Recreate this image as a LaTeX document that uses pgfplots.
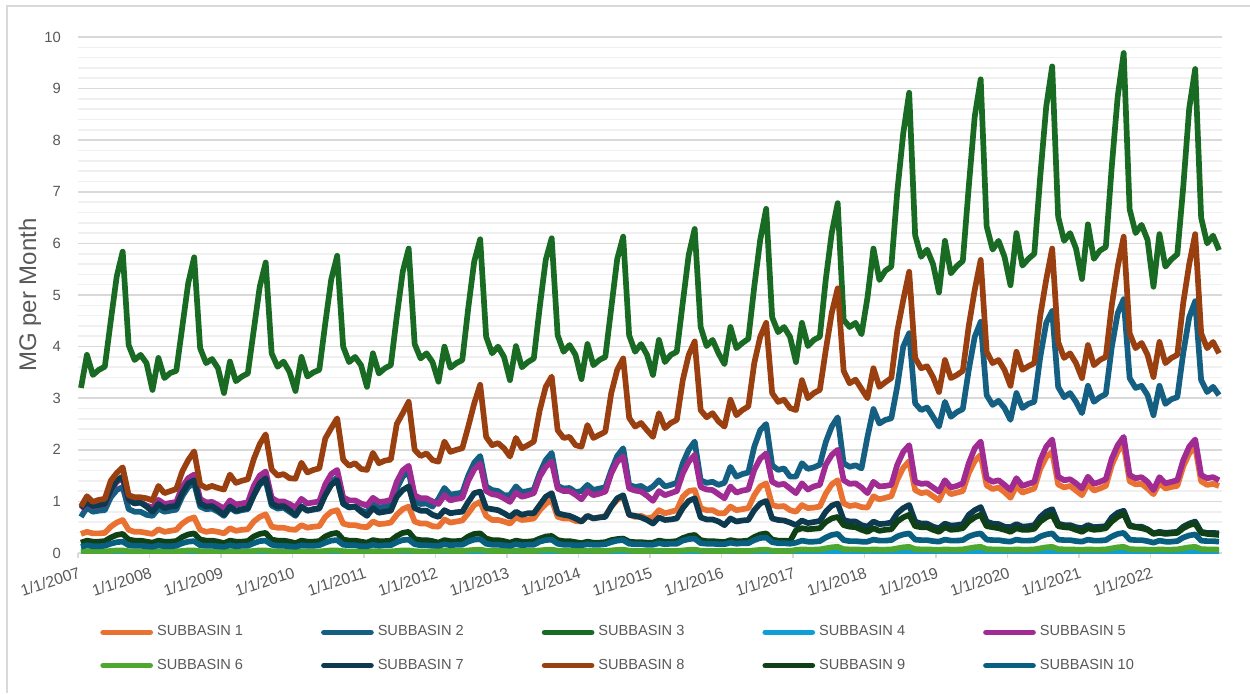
\documentclass[border=0pt]{standalone}
\usepackage{pgfplots}
\pgfplotsset{compat=1.18}
\usepackage{fontspec}
\setmainfont{Liberation Sans}
\definecolor{cS1}{HTML}{E97132}
\definecolor{cS2}{HTML}{156082}
\definecolor{cS3}{HTML}{196B24}
\definecolor{cS4}{HTML}{0F9ED5}
\definecolor{cS5}{HTML}{A02B93}
\definecolor{cS6}{HTML}{4EA72E}
\definecolor{cS7}{HTML}{0D3A4E}
\definecolor{cS8}{HTML}{9A4010}
\definecolor{cS9}{HTML}{0F4016}
\definecolor{cS10}{HTML}{095F80}
\definecolor{gridmaj}{HTML}{D9D9D9}
\definecolor{gridmin}{HTML}{F0F0F0}
\definecolor{txt}{HTML}{595959}
\begin{document}
\begin{tikzpicture}
\useasboundingbox (0pt,0pt) rectangle (625pt,346.5pt);
\fill[white] (0pt,0pt) rectangle (625pt,346.5pt);
\draw[gridmaj, line width=1pt] (3.25pt,0pt) -- (3.25pt,343.6pt) -- (625pt,343.6pt);
\begin{axis}[
  at={(39pt,70pt)}, anchor=south west,
  width=572pt, height=258pt, scale only axis,
  xmin=0, xmax=192, ymin=0, ymax=10,
  axis lines*=left,
  y axis line style={draw=none},
  x axis line style={gridmaj, line width=0.8pt},
  ytick={0,1,...,10}, minor y tick num=4,
  ymajorgrids, yminorgrids,
  major grid style={gridmaj, line width=0.8pt},
  minor grid style={gridmin, line width=0.8pt},
  y tick style={draw=none}, minor tick length=0pt,
  xtick={0,12,...,180},
  xticklabels={1/1/2007,1/1/2008,1/1/2009,1/1/2010,1/1/2011,1/1/2012,1/1/2013,1/1/2014,1/1/2015,1/1/2016,1/1/2017,1/1/2018,1/1/2019,1/1/2020,1/1/2021,1/1/2022},
  x tick style={gridmaj, line width=0.8pt},
  tick align=outside, major tick length=2.5pt,
  /pgf/number format/assume math mode=true,
  xticklabel style={yshift=-4pt, rotate=18, anchor=north east, inner sep=0pt, font=\fontsize{7.9}{9}\selectfont, text=txt},
  yticklabel style={font=\fontsize{7.4}{9}\selectfont, text=txt, xshift=-2.5pt},
  ylabel={MG per Month},
  ylabel style={at={(axis description cs:-0.042,0.5)}, anchor=center, font=\fontsize{12}{14}\selectfont, text=txt},
  every axis plot/.append style={line width=2.85pt, line join=round, no marks},
  legend columns=5,
  legend image code/.code={\draw[#1, line cap=round] (0pt,0pt) -- (23.5pt,0pt);},
  legend style={at={(axis description cs:0.0192,-0.186)}, anchor=west, draw=none, fill=none, inner sep=0pt,
    font=\fontsize{7.3}{9}\selectfont, text=txt, row sep=6pt,
    /tikz/every even column/.append style={column sep=4pt}},
]
% SUBBASIN 1
\addplot[cS1] table[header=false, x expr=\coordindex+0.5, y index=0, row sep=\\] {
0.37\\0.41\\0.38\\0.38\\0.39\\0.51\\0.59\\0.64\\0.45\\0.41\\0.41\\0.39\\
0.37\\0.46\\0.41\\0.43\\0.45\\0.57\\0.65\\0.69\\0.45\\0.41\\0.43\\0.41\\
0.38\\0.48\\0.43\\0.45\\0.46\\0.61\\0.70\\0.75\\0.51\\0.49\\0.49\\0.46\\
0.45\\0.54\\0.49\\0.51\\0.52\\0.70\\0.80\\0.83\\0.57\\0.54\\0.54\\0.51\\
0.50\\0.61\\0.56\\0.57\\0.59\\0.74\\0.85\\0.90\\0.61\\0.57\\0.57\\0.52\\
0.51\\0.65\\0.59\\0.61\\0.63\\0.77\\0.93\\0.99\\0.72\\0.64\\0.64\\0.61\\
0.57\\0.69\\0.64\\0.65\\0.67\\0.83\\0.95\\1.03\\0.70\\0.67\\0.67\\0.62\\
0.61\\0.72\\0.67\\0.69\\0.72\\0.90\\1.03\\1.09\\0.74\\0.70\\0.72\\0.67\\
0.70\\0.83\\0.77\\0.80\\0.83\\1.09\\1.20\\1.22\\0.87\\0.83\\0.83\\0.77\\
0.77\\0.90\\0.83\\0.85\\0.87\\1.12\\1.29\\1.35\\0.93\\0.90\\0.91\\0.83\\
0.80\\0.93\\0.87\\0.88\\0.90\\1.15\\1.33\\1.41\\0.96\\0.91\\0.93\\0.89\\
0.88\\1.10\\1.04\\1.07\\1.10\\1.42\\1.65\\1.78\\1.22\\1.16\\1.18\\1.10\\
1.02\\1.26\\1.14\\1.17\\1.20\\1.55\\1.78\\1.90\\1.31\\1.24\\1.27\\1.18\\
1.07\\1.30\\1.17\\1.21\\1.25\\1.63\\1.86\\1.96\\1.33\\1.27\\1.30\\1.21\\
1.12\\1.34\\1.21\\1.25\\1.30\\1.70\\1.97\\2.10\\1.39\\1.33\\1.34\\1.25\\
1.14\\1.36\\1.25\\1.28\\1.30\\1.68\\1.93\\2.06\\1.39\\1.32\\1.34\\1.30\\
};
% SUBBASIN 2
\addplot[cS2] table[header=false, x expr=\coordindex+0.5, y index=0, row sep=\\] {
0.70\\0.88\\0.80\\0.82\\0.83\\1.08\\1.22\\1.28\\0.85\\0.80\\0.80\\0.74\\
0.72\\0.86\\0.80\\0.82\\0.84\\1.10\\1.28\\1.35\\0.90\\0.85\\0.86\\0.80\\
0.72\\0.88\\0.80\\0.83\\0.85\\1.12\\1.33\\1.40\\0.92\\0.86\\0.88\\0.80\\
0.72\\0.90\\0.82\\0.84\\0.86\\1.15\\1.38\\1.46\\0.95\\0.88\\0.90\\0.83\\
0.78\\0.97\\0.88\\0.90\\0.92\\1.25\\1.48\\1.58\\1.00\\0.95\\0.96\\0.90\\
1.05\\1.26\\1.13\\1.15\\1.17\\1.50\\1.75\\1.88\\1.29\\1.22\\1.20\\1.12\\
1.12\\1.29\\1.18\\1.20\\1.23\\1.55\\1.80\\1.94\\1.30\\1.25\\1.26\\1.18\\
1.20\\1.32\\1.22\\1.25\\1.27\\1.60\\1.88\\2.03\\1.32\\1.28\\1.30\\1.22\\
1.29\\1.41\\1.29\\1.32\\1.36\\1.74\\2.00\\2.16\\1.41\\1.36\\1.38\\1.32\\
1.36\\1.67\\1.48\\1.53\\1.56\\2.06\\2.38\\2.50\\1.70\\1.61\\1.64\\1.48\\
1.48\\1.74\\1.63\\1.66\\1.71\\2.15\\2.45\\2.63\\1.74\\1.67\\1.70\\1.64\\
2.25\\2.79\\2.51\\2.58\\2.61\\3.23\\4.00\\4.26\\2.90\\2.77\\2.82\\2.64\\
2.45\\2.93\\2.64\\2.73\\2.79\\3.55\\4.19\\4.48\\3.06\\2.87\\2.95\\2.81\\
2.58\\3.10\\2.81\\2.89\\2.93\\3.80\\4.46\\4.69\\3.22\\3.02\\3.10\\2.93\\
2.71\\3.24\\2.93\\3.02\\3.08\\3.99\\4.65\\4.92\\3.39\\3.20\\3.24\\3.06\\
2.67\\3.24\\2.89\\2.98\\3.02\\3.88\\4.57\\4.88\\3.35\\3.12\\3.22\\3.06\\
};
% SUBBASIN 3
\addplot[cS3] table[header=false, x expr=\coordindex+0.5, y index=0, row sep=\\] {
3.20\\3.84\\3.45\\3.55\\3.61\\4.50\\5.36\\5.84\\4.03\\3.74\\3.84\\3.68\\
3.16\\3.78\\3.39\\3.49\\3.53\\4.38\\5.23\\5.73\\3.97\\3.68\\3.76\\3.58\\
3.10\\3.71\\3.33\\3.42\\3.48\\4.32\\5.16\\5.63\\3.87\\3.61\\3.71\\3.51\\
3.14\\3.80\\3.42\\3.50\\3.55\\4.45\\5.30\\5.76\\4.00\\3.70\\3.80\\3.64\\
3.22\\3.87\\3.48\\3.58\\3.64\\4.58\\5.45\\5.90\\4.05\\3.77\\3.87\\3.70\\
3.32\\4.00\\3.59\\3.68\\3.74\\4.75\\5.65\\6.08\\4.19\\3.87\\4.00\\3.80\\
3.35\\4.01\\3.60\\3.70\\3.77\\4.77\\5.68\\6.10\\4.22\\3.90\\4.03\\3.84\\
3.37\\4.05\\3.64\\3.74\\3.80\\4.75\\5.70\\6.13\\4.22\\3.90\\4.05\\3.84\\
3.45\\4.13\\3.70\\3.84\\3.90\\4.85\\5.78\\6.28\\4.38\\4.01\\4.13\\3.87\\
3.66\\4.38\\3.97\\4.07\\4.15\\5.16\\6.07\\6.67\\4.57\\4.28\\4.38\\4.19\\
3.70\\4.46\\4.01\\4.13\\4.19\\5.30\\6.20\\6.78\\4.52\\4.38\\4.46\\4.24\\
4.95\\5.90\\5.29\\5.47\\5.55\\7.00\\8.13\\8.92\\6.16\\5.74\\5.88\\5.60\\
5.05\\6.05\\5.42\\5.56\\5.66\\7.10\\8.46\\9.18\\6.33\\5.88\\6.05\\5.74\\
5.19\\6.20\\5.57\\5.70\\5.80\\7.30\\8.65\\9.43\\6.52\\6.05\\6.20\\5.90\\
5.31\\6.37\\5.70\\5.86\\5.93\\7.49\\8.85\\9.69\\6.66\\6.20\\6.36\\6.07\\
5.16\\6.18\\5.55\\5.69\\5.79\\7.10\\8.62\\9.38\\6.50\\6.00\\6.15\\5.87\\
};
% SUBBASIN 4
\addplot[cS4] table[header=false, x expr=\coordindex+0.5, y index=0, row sep=\\] {
0.010\\0.012\\0.010\\0.010\\0.010\\0.015\\0.020\\0.020\\0.012\\0.010\\0.010\\0.010\\
0.010\\0.012\\0.010\\0.010\\0.010\\0.015\\0.020\\0.020\\0.012\\0.010\\0.010\\0.010\\
0.010\\0.012\\0.010\\0.010\\0.010\\0.015\\0.020\\0.020\\0.012\\0.010\\0.010\\0.010\\
0.010\\0.012\\0.010\\0.010\\0.010\\0.015\\0.020\\0.020\\0.012\\0.010\\0.010\\0.010\\
0.010\\0.012\\0.010\\0.010\\0.010\\0.015\\0.020\\0.020\\0.012\\0.010\\0.010\\0.010\\
0.010\\0.012\\0.010\\0.010\\0.010\\0.015\\0.020\\0.020\\0.012\\0.010\\0.010\\0.010\\
0.010\\0.012\\0.010\\0.010\\0.010\\0.015\\0.020\\0.020\\0.012\\0.010\\0.010\\0.010\\
0.010\\0.012\\0.010\\0.010\\0.010\\0.015\\0.020\\0.020\\0.012\\0.010\\0.010\\0.010\\
0.010\\0.012\\0.010\\0.010\\0.010\\0.015\\0.020\\0.020\\0.012\\0.010\\0.010\\0.010\\
0.010\\0.012\\0.010\\0.010\\0.010\\0.015\\0.020\\0.020\\0.012\\0.010\\0.010\\0.010\\
0.015\\0.020\\0.015\\0.015\\0.020\\0.025\\0.030\\0.035\\0.020\\0.015\\0.015\\0.015\\
0.015\\0.020\\0.015\\0.015\\0.020\\0.025\\0.030\\0.035\\0.020\\0.015\\0.015\\0.015\\
0.015\\0.020\\0.015\\0.015\\0.020\\0.025\\0.030\\0.035\\0.020\\0.015\\0.015\\0.015\\
0.015\\0.020\\0.015\\0.015\\0.020\\0.025\\0.030\\0.035\\0.020\\0.015\\0.015\\0.015\\
0.015\\0.020\\0.015\\0.015\\0.020\\0.025\\0.030\\0.035\\0.020\\0.015\\0.015\\0.015\\
0.015\\0.020\\0.015\\0.015\\0.020\\0.025\\0.030\\0.035\\0.020\\0.015\\0.015\\0.015\\
};
% SUBBASIN 5
\addplot[cS5] table[header=false, x expr=\coordindex+0.5, y index=0, row sep=\\] {
0.85\\0.97\\0.90\\0.92\\0.94\\1.20\\1.38\\1.45\\1.02\\0.97\\0.98\\0.92\\
0.88\\1.03\\0.95\\0.97\\0.99\\1.28\\1.45\\1.52\\1.05\\0.98\\0.99\\0.93\\
0.86\\1.02\\0.94\\0.96\\0.98\\1.30\\1.50\\1.58\\1.07\\1.00\\1.00\\0.95\\
0.88\\1.05\\0.96\\0.98\\1.00\\1.33\\1.53\\1.61\\1.08\\1.02\\1.02\\0.96\\
0.92\\1.07\\0.99\\1.00\\1.03\\1.38\\1.60\\1.69\\1.12\\1.06\\1.06\\1.00\\
0.95\\1.12\\1.02\\1.05\\1.07\\1.40\\1.62\\1.73\\1.20\\1.14\\1.12\\1.06\\
0.99\\1.17\\1.09\\1.12\\1.16\\1.48\\1.67\\1.77\\1.25\\1.20\\1.20\\1.13\\
1.04\\1.20\\1.12\\1.15\\1.19\\1.54\\1.77\\1.87\\1.25\\1.21\\1.19\\1.11\\
1.01\\1.20\\1.12\\1.16\\1.20\\1.54\\1.77\\1.90\\1.28\\1.23\\1.22\\1.14\\
1.06\\1.29\\1.17\\1.21\\1.23\\1.61\\1.83\\1.93\\1.38\\1.32\\1.34\\1.25\\
1.16\\1.35\\1.23\\1.29\\1.32\\1.71\\1.90\\2.00\\1.41\\1.34\\1.35\\1.27\\
1.16\\1.38\\1.29\\1.30\\1.32\\1.71\\1.96\\2.09\\1.38\\1.34\\1.35\\1.27\\
1.19\\1.41\\1.27\\1.30\\1.35\\1.74\\2.03\\2.16\\1.45\\1.38\\1.41\\1.32\\
1.22\\1.45\\1.30\\1.34\\1.38\\1.80\\2.06\\2.20\\1.48\\1.41\\1.43\\1.35\\
1.25\\1.48\\1.34\\1.38\\1.43\\1.83\\2.09\\2.25\\1.51\\1.45\\1.47\\1.38\\
1.22\\1.47\\1.35\\1.38\\1.41\\1.80\\2.06\\2.20\\1.51\\1.45\\1.47\\1.41\\
};
% SUBBASIN 6
\addplot[cS6] table[header=false, x expr=\coordindex+0.5, y index=0, row sep=\\] {
0.030\\0.035\\0.030\\0.030\\0.030\\0.040\\0.050\\0.050\\0.035\\0.030\\0.030\\0.030\\
0.030\\0.035\\0.030\\0.030\\0.030\\0.040\\0.050\\0.050\\0.035\\0.030\\0.030\\0.030\\
0.030\\0.035\\0.030\\0.030\\0.030\\0.040\\0.050\\0.050\\0.035\\0.030\\0.030\\0.030\\
0.030\\0.035\\0.030\\0.030\\0.030\\0.040\\0.050\\0.050\\0.035\\0.030\\0.030\\0.030\\
0.030\\0.035\\0.030\\0.030\\0.030\\0.040\\0.050\\0.050\\0.035\\0.030\\0.030\\0.030\\
0.040\\0.045\\0.040\\0.040\\0.040\\0.050\\0.060\\0.065\\0.045\\0.040\\0.040\\0.040\\
0.040\\0.045\\0.040\\0.040\\0.040\\0.050\\0.060\\0.065\\0.045\\0.040\\0.040\\0.040\\
0.040\\0.045\\0.040\\0.040\\0.040\\0.050\\0.060\\0.065\\0.045\\0.040\\0.040\\0.040\\
0.040\\0.045\\0.040\\0.040\\0.040\\0.050\\0.060\\0.065\\0.045\\0.040\\0.040\\0.040\\
0.040\\0.045\\0.040\\0.040\\0.040\\0.050\\0.060\\0.065\\0.045\\0.040\\0.040\\0.040\\
0.060\\0.070\\0.065\\0.065\\0.070\\0.090\\0.110\\0.120\\0.075\\0.070\\0.070\\0.065\\
0.060\\0.070\\0.065\\0.065\\0.070\\0.090\\0.110\\0.120\\0.075\\0.070\\0.070\\0.065\\
0.060\\0.070\\0.065\\0.065\\0.070\\0.090\\0.110\\0.120\\0.075\\0.070\\0.070\\0.065\\
0.060\\0.070\\0.065\\0.065\\0.070\\0.090\\0.110\\0.120\\0.075\\0.070\\0.070\\0.065\\
0.060\\0.070\\0.065\\0.065\\0.070\\0.090\\0.110\\0.120\\0.075\\0.070\\0.070\\0.065\\
0.060\\0.070\\0.065\\0.065\\0.070\\0.090\\0.110\\0.120\\0.075\\0.070\\0.070\\0.065\\
};
% SUBBASIN 7
\addplot[cS7] table[header=false, x expr=\coordindex+0.5, y index=0, row sep=\\] {
0.87\\0.98\\0.91\\0.93\\0.95\\1.22\\1.41\\1.48\\1.03\\0.96\\0.98\\0.90\\
0.80\\0.95\\0.87\\0.90\\0.91\\1.16\\1.35\\1.41\\0.96\\0.90\\0.91\\0.83\\
0.74\\0.90\\0.82\\0.85\\0.87\\1.12\\1.35\\1.45\\0.96\\0.90\\0.91\\0.83\\
0.74\\0.90\\0.82\\0.85\\0.87\\1.12\\1.32\\1.41\\0.96\\0.89\\0.90\\0.80\\
0.72\\0.87\\0.78\\0.80\\0.82\\1.09\\1.22\\1.29\\0.87\\0.82\\0.82\\0.74\\
0.70\\0.83\\0.77\\0.79\\0.80\\0.99\\1.16\\1.19\\0.87\\0.85\\0.83\\0.77\\
0.70\\0.80\\0.74\\0.77\\0.77\\0.93\\1.09\\1.16\\0.77\\0.74\\0.72\\0.67\\
0.61\\0.72\\0.67\\0.69\\0.70\\0.90\\1.06\\1.12\\0.74\\0.72\\0.69\\0.64\\
0.57\\0.69\\0.64\\0.65\\0.67\\0.87\\1.01\\1.06\\0.69\\0.65\\0.65\\0.61\\
0.54\\0.67\\0.61\\0.63\\0.64\\0.83\\0.96\\1.01\\0.67\\0.64\\0.63\\0.59\\
0.54\\0.63\\0.58\\0.60\\0.62\\0.80\\0.92\\0.96\\0.64\\0.61\\0.61\\0.54\\
0.51\\0.61\\0.56\\0.57\\0.59\\0.77\\0.87\\0.93\\0.61\\0.57\\0.57\\0.51\\
0.48\\0.57\\0.53\\0.54\\0.56\\0.74\\0.83\\0.89\\0.61\\0.57\\0.56\\0.51\\
0.50\\0.56\\0.51\\0.52\\0.54\\0.70\\0.80\\0.85\\0.57\\0.54\\0.54\\0.50\\
0.48\\0.54\\0.50\\0.51\\0.52\\0.69\\0.78\\0.82\\0.54\\0.51\\0.51\\0.46\\
0.38\\0.41\\0.39\\0.40\\0.41\\0.51\\0.57\\0.61\\0.41\\0.39\\0.39\\0.38\\
};
% SUBBASIN 8
\addplot[cS8] table[header=false, x expr=\coordindex+0.5, y index=0, row sep=\\] {
0.90\\1.10\\0.99\\1.03\\1.05\\1.40\\1.55\\1.66\\1.12\\1.08\\1.08\\1.06\\
1.02\\1.30\\1.16\\1.20\\1.24\\1.58\\1.80\\1.97\\1.33\\1.26\\1.30\\1.26\\
1.23\\1.52\\1.36\\1.40\\1.43\\1.82\\2.11\\2.30\\1.62\\1.50\\1.53\\1.45\\
1.44\\1.75\\1.56\\1.61\\1.64\\2.22\\2.42\\2.61\\1.81\\1.69\\1.74\\1.63\\
1.61\\1.94\\1.74\\1.79\\1.81\\2.50\\2.71\\2.93\\2.00\\1.88\\1.93\\1.80\\
1.77\\2.16\\1.96\\2.00\\2.03\\2.45\\2.90\\3.26\\2.25\\2.09\\2.13\\2.03\\
1.87\\2.23\\2.03\\2.09\\2.16\\2.77\\3.22\\3.42\\2.38\\2.23\\2.25\\2.09\\
2.06\\2.48\\2.23\\2.29\\2.35\\3.10\\3.55\\3.77\\2.62\\2.45\\2.52\\2.38\\
2.25\\2.71\\2.42\\2.52\\2.58\\3.35\\3.84\\4.10\\2.77\\2.63\\2.71\\2.55\\
2.45\\2.97\\2.67\\2.77\\2.84\\3.68\\4.19\\4.46\\3.10\\2.93\\2.97\\2.81\\
2.77\\3.35\\3.00\\3.10\\3.16\\3.93\\4.65\\5.13\\3.53\\3.29\\3.36\\3.18\\
3.00\\3.58\\3.22\\3.31\\3.39\\4.30\\4.90\\5.45\\3.78\\3.58\\3.62\\3.41\\
3.12\\3.74\\3.39\\3.45\\3.53\\4.40\\5.10\\5.68\\3.90\\3.68\\3.74\\3.55\\
3.24\\3.90\\3.55\\3.62\\3.68\\4.60\\5.30\\5.90\\4.09\\3.78\\3.87\\3.68\\
3.39\\4.03\\3.64\\3.74\\3.80\\4.80\\5.55\\6.13\\4.26\\3.97\\4.07\\3.84\\
3.41\\4.09\\3.68\\3.78\\3.84\\4.85\\5.60\\6.18\\4.26\\3.97\\4.09\\3.87\\
};
% SUBBASIN 9
\addplot[cS9] table[header=false, x expr=\coordindex+0.5, y index=0, row sep=\\] {
0.20\\0.24\\0.22\\0.22\\0.23\\0.30\\0.35\\0.37\\0.26\\0.24\\0.24\\0.22\\
0.20\\0.24\\0.22\\0.22\\0.23\\0.31\\0.36\\0.38\\0.26\\0.24\\0.24\\0.22\\
0.19\\0.24\\0.22\\0.22\\0.23\\0.32\\0.37\\0.39\\0.26\\0.24\\0.24\\0.22\\
0.19\\0.24\\0.22\\0.22\\0.23\\0.32\\0.37\\0.39\\0.26\\0.24\\0.24\\0.22\\
0.20\\0.25\\0.23\\0.23\\0.24\\0.33\\0.39\\0.41\\0.27\\0.25\\0.25\\0.23\\
0.20\\0.25\\0.23\\0.23\\0.24\\0.32\\0.37\\0.38\\0.28\\0.25\\0.25\\0.23\\
0.20\\0.24\\0.22\\0.22\\0.23\\0.28\\0.32\\0.33\\0.25\\0.23\\0.23\\0.21\\
0.19\\0.22\\0.20\\0.20\\0.21\\0.25\\0.27\\0.28\\0.22\\0.21\\0.21\\0.20\\
0.20\\0.24\\0.22\\0.22\\0.23\\0.29\\0.33\\0.35\\0.25\\0.23\\0.23\\0.22\\
0.21\\0.25\\0.23\\0.23\\0.24\\0.31\\0.36\\0.38\\0.26\\0.24\\0.24\\0.23\\
0.44\\0.48\\0.46\\0.47\\0.48\\0.60\\0.67\\0.70\\0.54\\0.51\\0.50\\0.45\\
0.41\\0.48\\0.43\\0.45\\0.46\\0.61\\0.69\\0.74\\0.52\\0.50\\0.50\\0.45\\
0.41\\0.50\\0.45\\0.46\\0.48\\0.61\\0.69\\0.74\\0.52\\0.50\\0.48\\0.45\\
0.41\\0.48\\0.45\\0.45\\0.47\\0.61\\0.69\\0.74\\0.52\\0.50\\0.49\\0.45\\
0.41\\0.48\\0.45\\0.46\\0.48\\0.61\\0.70\\0.76\\0.52\\0.50\\0.48\\0.45\\
0.37\\0.39\\0.37\\0.38\\0.39\\0.48\\0.54\\0.57\\0.39\\0.37\\0.36\\0.35\\
};
% SUBBASIN 10
\addplot[cS10] table[header=false, x expr=\coordindex+0.5, y index=0, row sep=\\] {
0.12\\0.15\\0.13\\0.13\\0.14\\0.18\\0.21\\0.22\\0.15\\0.14\\0.14\\0.13\\
0.12\\0.15\\0.13\\0.13\\0.14\\0.19\\0.22\\0.23\\0.15\\0.14\\0.14\\0.13\\
0.12\\0.15\\0.13\\0.14\\0.14\\0.19\\0.23\\0.24\\0.16\\0.14\\0.14\\0.13\\
0.12\\0.15\\0.14\\0.14\\0.15\\0.20\\0.24\\0.25\\0.16\\0.15\\0.15\\0.13\\
0.13\\0.16\\0.14\\0.15\\0.15\\0.21\\0.25\\0.26\\0.17\\0.15\\0.15\\0.14\\
0.14\\0.17\\0.15\\0.16\\0.16\\0.22\\0.26\\0.27\\0.18\\0.16\\0.16\\0.15\\
0.14\\0.17\\0.15\\0.16\\0.16\\0.22\\0.25\\0.26\\0.18\\0.16\\0.16\\0.15\\
0.15\\0.17\\0.16\\0.16\\0.17\\0.21\\0.24\\0.25\\0.18\\0.17\\0.17\\0.16\\
0.16\\0.19\\0.17\\0.18\\0.18\\0.24\\0.27\\0.28\\0.19\\0.18\\0.18\\0.17\\
0.17\\0.20\\0.18\\0.19\\0.19\\0.25\\0.29\\0.30\\0.21\\0.19\\0.19\\0.18\\
0.20\\0.24\\0.22\\0.22\\0.23\\0.30\\0.35\\0.37\\0.25\\0.23\\0.23\\0.22\\
0.22\\0.26\\0.24\\0.24\\0.25\\0.32\\0.36\\0.38\\0.26\\0.25\\0.25\\0.23\\
0.22\\0.26\\0.24\\0.24\\0.25\\0.32\\0.36\\0.38\\0.26\\0.25\\0.25\\0.23\\
0.22\\0.26\\0.24\\0.24\\0.25\\0.32\\0.36\\0.38\\0.26\\0.25\\0.25\\0.23\\
0.22\\0.26\\0.24\\0.24\\0.25\\0.32\\0.37\\0.39\\0.26\\0.25\\0.25\\0.23\\
0.20\\0.24\\0.22\\0.22\\0.23\\0.30\\0.34\\0.36\\0.24\\0.23\\0.23\\0.22\\
};
\legend{\makebox[76pt][l]{SUBBASIN 1},\makebox[76pt][l]{SUBBASIN 2},\makebox[76pt][l]{SUBBASIN 3},\makebox[76pt][l]{SUBBASIN 4},\makebox[76pt][l]{SUBBASIN 5},\makebox[76pt][l]{SUBBASIN 6},\makebox[76pt][l]{SUBBASIN 7},\makebox[76pt][l]{SUBBASIN 8},\makebox[76pt][l]{SUBBASIN 9},\makebox[76pt][l]{SUBBASIN 10}}
\end{axis}
\end{tikzpicture}
\end{document}
